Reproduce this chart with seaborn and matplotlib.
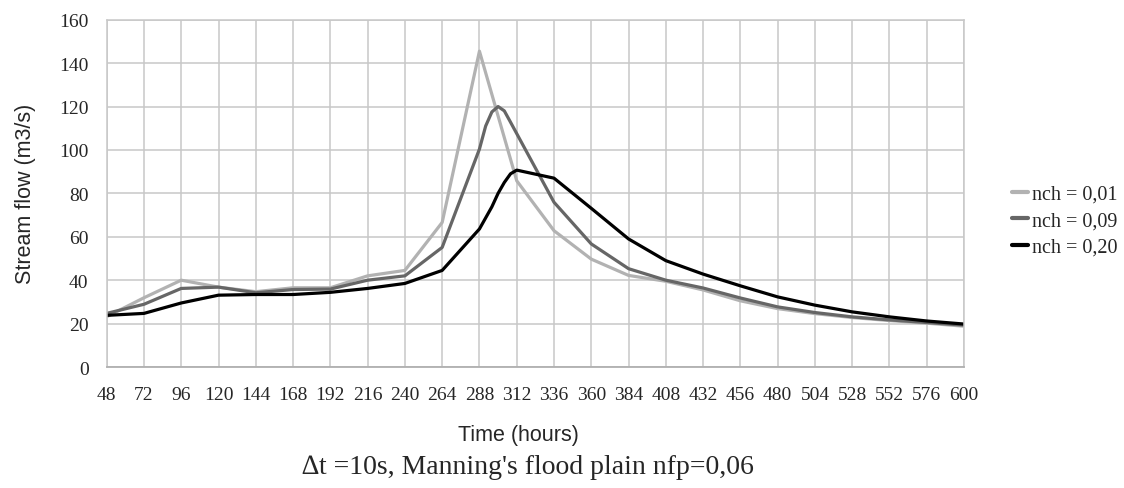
import numpy as np
import pandas as pd
import seaborn as sns
import matplotlib
matplotlib.use('Agg')
import matplotlib.pyplot as plt

# time axis (hours) and stream flow (m3/s)
hours = [48, 72, 96, 120, 144, 168, 192, 216, 240, 264, 288, 312,
         336, 360, 384, 408, 432, 456, 480, 504, 528, 552, 576, 600]
flow_001 = [23.2, 31.9, 40.0, 36.8, 34.7, 36.5, 36.5, 42.0, 44.5, 66.6, 145.5, 85.8,
            62.8, 49.7, 42.2, 39.5, 35.5, 30.5, 26.9, 24.6, 22.8, 21.4, 20.2, 18.8]

hours_009 = [48, 72, 96, 120, 144, 168, 192, 216, 240, 264, 288, 292, 296, 300, 304, 308,
             336, 360, 384, 408, 432, 456, 480, 504, 528, 552, 576, 600]
flow_009 = [24.7, 28.9, 36.2, 36.8, 34.2, 35.7, 35.9, 40.0, 42.0, 55.1, 100.4, 111.0, 117.5, 120.0, 118.0, 112.8,
            75.9, 56.7, 45.3, 40.0, 36.4, 31.8, 27.7, 25.1, 23.1, 21.7, 20.5, 19.3]

hours_020 = [48, 72, 96, 120, 144, 168, 192, 216, 240, 264, 288, 296, 300, 304, 308, 312,
             336, 360, 384, 408, 432, 456, 480, 504, 528, 552, 576, 600]
flow_020 = [23.8, 24.7, 29.5, 33.1, 33.4, 33.4, 34.4, 36.2, 38.5, 44.5, 63.6, 73.8, 80.0, 85.0, 89.0, 90.7,
            87.0, 73.1, 59.0, 49.0, 42.8, 37.4, 32.3, 28.5, 25.4, 23.1, 21.2, 19.8]

labels = ['nch = 0,01', 'nch = 0,09', 'nch = 0,20']
colors = ['#b2b2b2', '#666666', '#000000']

# long format for seaborn
df = pd.concat([
    pd.DataFrame({'time': hours, 'flow': flow_001, 'series': labels[0]}),
    pd.DataFrame({'time': hours_009, 'flow': flow_009, 'series': labels[1]}),
    pd.DataFrame({'time': hours_020, 'flow': flow_020, 'series': labels[2]}),
])

sns.set_style('white')
plt.rcParams['font.family'] = ['Liberation Serif', 'DejaVu Serif']

fig = plt.figure(figsize=(11.24, 4.89), dpi=100)
ax = fig.add_axes([0.0949, 0.2474, 0.7628, 0.7103])

sns.lineplot(data=df, x='time', y='flow', hue='series', palette=dict(zip(labels, colors)),
             linewidth=2.3, sort=False, estimator=None, ax=ax, legend=False)

ax.set_xlim(48, 600)
ax.set_ylim(0, 160)
ax.set_xticks(np.arange(48, 601, 24))
ax.set_yticks(np.arange(0, 161, 20))
ax.grid(True, color='#c8c8c8', linewidth=1.1)
ax.set_axisbelow(True)
for side in ['top', 'right', 'left']:
    ax.spines[side].set_color('#c8c8c8')
    ax.spines[side].set_linewidth(1.1)
ax.spines['bottom'].set_color('#b0b0b0')
ax.spines['bottom'].set_linewidth(1.3)
ax.tick_params(axis='both', direction='out', length=8, width=1, color='#b0b0b0',
               labelsize=14, pad=6)
ax.tick_params(axis='y', pad=5)

sans = ['Liberation Sans', 'DejaVu Sans']
ax.set_xlabel('Time (hours)', fontsize=15.5, family=sans)
ax.set_ylabel('Stream flow (m3/s)', fontsize=15.5, family=sans)
ax.xaxis.set_label_coords(0.48, -0.165)
ax.yaxis.set_label_coords(-0.082, 0.5)

fig.text(0.47, 0.043, "\u2206t =10s, Manning's flood plain nfp=0,06", ha='center', va='center',
         fontsize=20)

# legend at right
handles = [plt.Line2D([], [], color=c, linewidth=3) for c in colors]
fig.legend(handles, labels, loc='upper left', bbox_to_anchor=(0.891, 0.641), frameon=False,
           fontsize=14.5, handlelength=0.8, handletextpad=0.2, labelspacing=0.37, borderpad=0)

fig.savefig('out.png', dpi=100)
